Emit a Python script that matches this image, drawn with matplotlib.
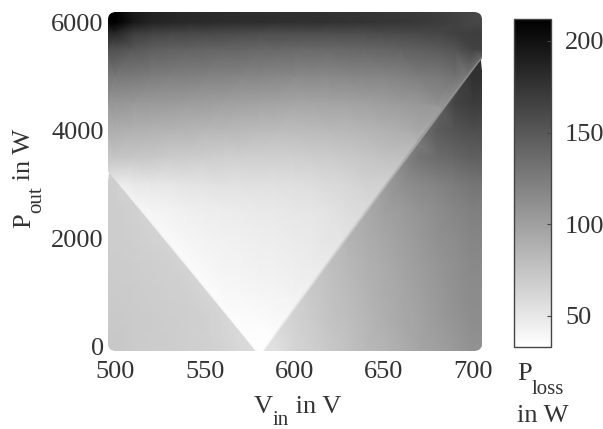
import numpy as np
import matplotlib
matplotlib.use("Agg")
import matplotlib.pyplot as plt
import matplotlib.tri as mtri
from matplotlib.patches import FancyBboxPatch
from matplotlib.transforms import IdentityTransform

plt.rcParams['font.family'] = 'Liberation Serif'

# loss map (W), grid over input voltage / output power
v_in = [500, 510, 520, 530, 540, 550, 560, 570, 580, 590, 600,
        610, 620, 630, 640, 650, 660, 670, 680, 690, 700]
p_out = [0, 500, 1000, 1500, 2000, 2500, 3000, 3500, 4000, 4500, 5000, 5500, 5800, 6000]

loss_0000 = [72, 70, 69, 68, 67, 66, 64, 60, 36, 55, 63, 67, 72, 77, 82, 86, 91, 96, 100, 105, 110]
loss_0500 = [71, 70, 69, 68, 67, 66, 63, 37, 36, 38, 65, 70, 75, 79, 84, 89, 94, 98, 103, 108, 113]
loss_1000 = [70, 69, 68, 67, 66, 63, 38, 39, 40, 41, 43, 72, 76, 81, 86, 91, 95, 100, 105, 110, 114]
loss_1500 = [69, 68, 67, 66, 63, 39, 41, 42, 43, 44, 45, 47, 78, 83, 88, 92, 97, 102, 107, 111, 116]
loss_2000 = [68, 67, 65, 38, 40, 42, 43, 44, 45, 46, 47, 49, 52, 86, 91, 95, 100, 105, 110, 114, 119]
loss_2500 = [68, 66, 40, 42, 44, 45, 46, 47, 48, 49, 50, 51, 53, 57, 94, 99, 103, 108, 113, 118, 122]
loss_3000 = [68, 49, 50, 51, 52, 53, 54, 54, 55, 55, 56, 57, 59, 61, 65, 107, 111, 116, 120, 125, 130]
loss_3500 = [74, 73, 72, 70, 69, 68, 67, 67, 67, 67, 67, 68, 69, 71, 73, 76, 80, 131, 136, 140, 145]
loss_4000 = [90, 88, 87, 86, 85, 84, 83, 82, 81, 80, 80, 81, 82, 83, 85, 87, 90, 95, 148, 153, 157]
loss_4500 = [107, 105, 104, 103, 102, 101, 100, 99, 98, 97, 96, 96, 97, 98, 99, 101, 103, 106, 111, 165, 170]
loss_5000 = [128, 126, 124, 123, 122, 121, 120, 119, 118, 117, 116, 116, 116, 117, 118, 119, 121, 124, 127, 132, 178]
loss_5500 = [155, 150, 146, 144, 143, 142, 141, 140, 139, 139, 138, 138, 138, 139, 140, 141, 143, 145, 148, 153, 165]
loss_5800 = [185, 170, 165, 163, 162, 161, 160, 159, 158, 158, 158, 158, 158, 158, 158, 159, 160, 161, 163, 166, 168]
loss_6000 = [212, 195, 188, 185, 183, 182, 181, 180, 180, 179, 178, 178, 177, 176, 175, 174, 173, 172, 170, 166, 162]

# the two sharp edges of the bright "V": position, value just inside, value just outside
vertex_v = 581
vertex_in, vertex_left, vertex_right = 34, 58, 55
left_edge_p = [250, 600, 1000, 1400, 1800, 2200, 2600, 3000, 3250]
left_edge_v = [574.5, 565.5, 555, 544.5, 534, 523.5, 513, 502.5, 496]
left_edge_in = [35, 36, 36, 37, 37, 38, 40, 46, 62]
left_edge_out = [57, 59, 61, 62, 63, 63, 64, 65, 67]

right_edge_p = [250, 800, 1400, 2000, 2600, 3200, 3800, 4400, 5000, 5350]
right_edge_v = [587, 599.5, 613.5, 627, 641, 655, 668.5, 682.5, 696.5, 705]
right_edge_in = [35, 40, 46, 52, 60, 70, 86, 104, 126, 142]
right_edge_out = [55, 64, 73, 82, 93, 106, 124, 145, 170, 178]

cbar_ticks = [50, 100, 150, 200]

loss = np.array([loss_0000, loss_0500, loss_1000, loss_1500, loss_2000, loss_2500, loss_3000,
                 loss_3500, loss_4000, loss_4500, loss_5000, loss_5500, loss_5800, loss_6000], float)

X0, X1, Y0, Y1 = 496, 705, -90, 6190
lp = [Y0, 0] + left_edge_p
lv = [vertex_v, vertex_v] + left_edge_v
rp = [Y0, 0] + right_edge_p
rv = [vertex_v, vertex_v] + right_edge_v


def region(v, p):
    vl = np.interp(p, lp, lv, right=-1e9)
    vr = np.interp(p, rp, rv, right=1e9)
    if abs(v - vl) < 2 or abs(v - vr) < 2:
        return None
    if v < vl:
        return 0
    if v > vr:
        return 2
    return 1


pts = {0: [], 1: [], 2: []}
for i, p in enumerate(p_out):
    for j, v in enumerate(v_in):
        vs = {v, X0 if j == 0 else (X1 if j == len(v_in) - 1 else v)}
        ps = {p, Y0 if i == 0 else (Y1 if i == len(p_out) - 1 else p)}
        for vx in vs:
            for pp in ps:
                r = region(vx, pp)
                if r is not None:
                    pts[r].append((vx, pp, loss[i, j]))

# tip of the V; the outer zones reach a little under the bright zone, which is drawn last
pts[1] += [(vertex_v, 0, vertex_in), (vertex_v - 2, Y0, vertex_in), (vertex_v + 2, Y0, vertex_in)]
pts[0] += [(vertex_v + 1, 0, vertex_left), (vertex_v + 3, Y0, vertex_left)]
pts[2] += [(vertex_v - 1, 0, vertex_right), (vertex_v - 3, Y0, vertex_right)]

for p, v, zi, zo in zip(left_edge_p, left_edge_v, left_edge_in, left_edge_out):
    pts[1].append((v, p, zi))
    pts[0].append((v + 1, p, zo))
for p, v, zi, zo in zip(right_edge_p, right_edge_v, right_edge_in, right_edge_out):
    pts[1].append((v, p, zi))
    pts[2].append((v - 1, p, zo))

W, H = 603, 429
fig = plt.figure(figsize=(6.03, 4.29), dpi=100)
ax = fig.add_axes([108 / W, 1 - 351 / H, 374 / W, 339 / H])
ax.set_xlim(X0, X1)
ax.set_ylim(Y0, Y1)

clip = FancyBboxPatch((0, 0), 1, 1, boxstyle='round,pad=0,rounding_size=0.022',
                      transform=ax.transAxes, facecolor='none', edgecolor='none')
ax.add_patch(clip)

# each of the three zones gets its own gouraud-shaded triangulation
for r in (0, 2, 1):
    a = np.array(pts[r], float)
    # triangulate in screen-like proportions (about 33 W per V), then draw in data units
    tri = mtri.Triangulation(a[:, 0], a[:, 1], mtri.Triangulation(a[:, 0], a[:, 1] / 33.0).triangles)
    m = ax.tripcolor(tri, a[:, 2], shading='gouraud', cmap='gray_r', vmin=33, vmax=212)
    m.set_clip_path(clip)
    if r == 1:
        mesh = m

for s in ax.spines.values():
    s.set_visible(False)
ax.set_xticks([500, 550, 600, 650, 700])
ax.set_yticks([0, 2000, 4000, 6000])
ax.tick_params(length=0, labelsize=19, colors='#333333')
ax.tick_params(axis='x', pad=7)
ax.tick_params(axis='y', pad=3)

cax = fig.add_axes([514 / W, 1 - 347 / H, 37 / W, 328 / H])
cb = fig.colorbar(mesh, cax=cax, ticks=cbar_ticks)
cb.outline.set_edgecolor('#444444')
cb.outline.set_linewidth(1)
cax.tick_params(direction='in', length=3, width=0.8, color='#444444',
                labelsize=19, labelcolor='#333333', pad=10)

# labels with low-set subscripts, pieced together in pixel coordinates
renderer = fig.canvas.get_renderer()


def label(x, y, pieces, rotation=0):
    for s, size, drop in pieces:
        if rotation:
            t = fig.text(x + drop, y, s, fontsize=size, rotation=90, rotation_mode='anchor',
                         ha='left', va='baseline', color='#333333', transform=IdentityTransform())
            y += t.get_window_extent(renderer).height
        else:
            t = fig.text(x, y - drop, s, fontsize=size, ha='left', va='baseline',
                         color='#333333', transform=IdentityTransform())
            x += t.get_window_extent(renderer).width


label(254, H - 413, [('V', 19, 0), ('in', 15, 12), (' in V', 19, 0)])
label(30, H - 228, [('P', 19, 0), ('out', 15, 11), (' in W', 19, 0)], rotation=90)
label(517, H - 380, [('P', 19, 0), ('loss', 15, 14)])
label(517, H - 422, [('in W', 19, 0)])

fig.savefig('out.png', dpi=100)
